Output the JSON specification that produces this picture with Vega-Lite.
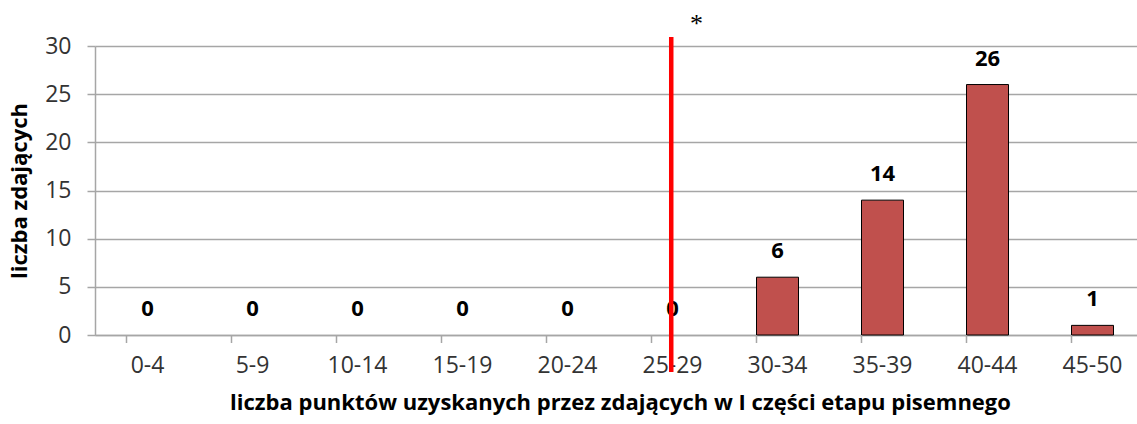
{
  "$schema": "https://vega.github.io/schema/vega-lite/v6.json",
  "autosize": "none",
  "width": 1050,
  "height": 289,
  "padding": {"left": 95, "top": 46, "right": 0, "bottom": 89},
  "background": "white",
  "config": {
    "view": {"stroke": null},
    "font": "Open Sans"
  },
  "datasets": {
    "bins": [
      {"przedzial": "0-4", "liczba": 0},
      {"przedzial": "5-9", "liczba": 0},
      {"przedzial": "10-14", "liczba": 0},
      {"przedzial": "15-19", "liczba": 0},
      {"przedzial": "20-24", "liczba": 0},
      {"przedzial": "25-29", "liczba": 0},
      {"przedzial": "30-34", "liczba": 6},
      {"przedzial": "35-39", "liczba": 14},
      {"przedzial": "40-44", "liczba": 26},
      {"przedzial": "45-50", "liczba": 1}
    ],
    "prog": [{"przedzial": "25-29", "gora": 30.93, "dol": -3.84, "gwiazdka": 32.3, "znak": "*"}]
  },
  "layer": [
    {
      "data": {"name": "bins"},
      "transform": [{"filter": "datum.liczba > 0"}],
      "mark": {"type": "bar", "color": "#C0504D", "stroke": "#000000", "strokeWidth": 1},
      "encoding": {
        "x": {
          "field": "przedzial", "type": "nominal", "sort": null,
          "scale": {"domain": ["0-4","5-9","10-14","15-19","20-24","25-29","30-34","35-39","40-44","45-50"], "paddingInner": 0.6, "paddingOuter": 0.3},
          "axis": {
            "title": "liczba punktów uzyskanych przez zdających w I części etapu pisemnego",
            "titleFont": "Open Sans", "titleFontSize": 22, "titleFontWeight": "bold", "titleColor": "#000000",
            "titlePadding": 15,
            "labelAngle": 0, "labelFont": "Open Sans", "labelFontSize": 23, "labelColor": "#333333",
            "labelPadding": 19, "ticks": false,
            "domainColor": "#A6A6A6", "domainWidth": 1.5, "grid": false
          }
        },
        "y": {
          "field": "liczba", "type": "quantitative",
          "scale": {"domain": [0, 30], "nice": false},
          "axis": {
            "title": "liczba zdających",
            "titleFont": "Open Sans", "titleFontSize": 22, "titleFontWeight": "bold", "titleColor": "#000000",
            "titlePadding": 13,
            "values": [0, 5, 10, 15, 20, 25, 30],
            "labelFont": "Open Sans", "labelFontSize": 23, "labelColor": "#333333", "labelPadding": 16,
            "tickSize": 8, "tickColor": "#A6A6A6", "tickWidth": 1.5,
            "domainColor": "#A6A6A6", "domainWidth": 1.5,
            "grid": true, "gridColor": "#A6A6A6", "gridWidth": 1.5
          }
        }
      }
    },
    {
      "data": {"name": "bins"},
      "mark": {"type": "rule", "color": "#A6A6A6", "strokeWidth": 1.5},
      "encoding": {
        "x": {"field": "przedzial", "type": "nominal", "sort": null, "bandPosition": 0},
        "y": {"datum": 0},
        "y2": {"datum": -0.83}
      }
    },
    {
      "data": {"name": "bins"},
      "mark": {"type": "text", "font": "Open Sans", "fontSize": 22, "fontWeight": "bold", "color": "#000000", "baseline": "middle", "dy": -26},
      "encoding": {
        "x": {"field": "przedzial", "type": "nominal", "sort": null},
        "y": {"field": "liczba", "type": "quantitative"},
        "text": {"field": "liczba", "type": "quantitative"}
      }
    },
    {
      "data": {"name": "prog"},
      "mark": {"type": "rule", "color": "#FF0000", "strokeWidth": 4.5},
      "encoding": {
        "x": {"field": "przedzial", "type": "nominal", "bandPosition": 0.47},
        "y": {"field": "gora", "type": "quantitative"},
        "y2": {"field": "dol"}
      }
    },
    {
      "data": {"name": "prog"},
      "mark": {"type": "text", "font": "Liberation Serif", "fontSize": 26, "color": "#000000", "baseline": "middle", "dx": 24},
      "encoding": {
        "x": {"field": "przedzial", "type": "nominal"},
        "y": {"field": "gwiazdka", "type": "quantitative"},
        "text": {"field": "znak"}
      }
    }
  ]
}
